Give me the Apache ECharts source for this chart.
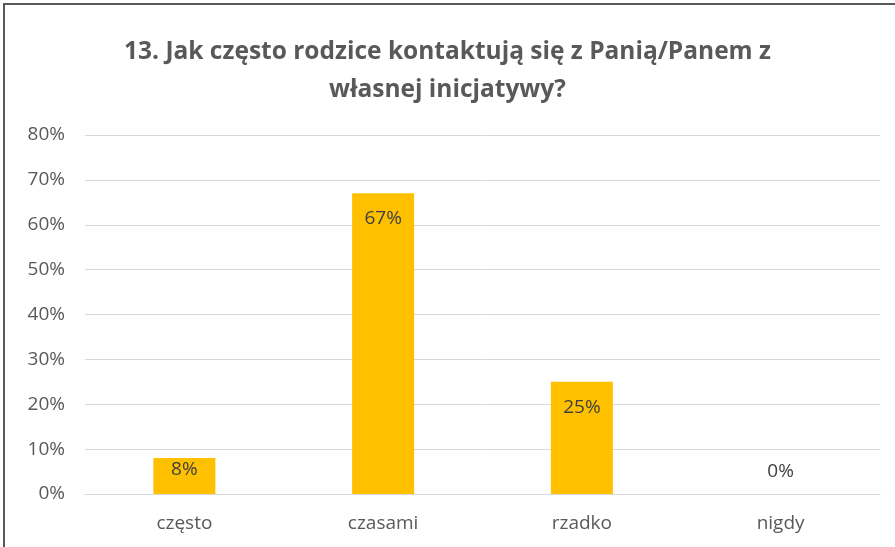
<!DOCTYPE html>
<html>
<head>
<meta charset="utf-8">
<script src="https://cdn.jsdelivr.net/npm/echarts@6/dist/echarts.min.js"></script>
<style>
  html, body { margin: 0; padding: 0; background: #fff; }
  #chart { width: 895px; height: 547px; }
</style>
</head>
<body>
<div id="chart"></div>
<script>
// Survey question 13 - share of answers
const categories = ['często', 'czasami', 'rzadko', 'nigdy'];
const shares = [8, 67, 25, 0];
const yTicks = [0, 10, 20, 30, 40, 50, 60, 70, 80];

const BAR_COLOR = '#FFC000';
const TEXT_COLOR = '#595959';
const GRID_COLOR = '#D9D9D9';
const FONT = 'Open Sans';

const chart = echarts.init(document.getElementById('chart'));

// Excel-like label placement: zero bars get the label above the axis,
// short bars keep it close to the top edge
const barData = shares.map(v => {
    if (v === 0) return { value: v, label: { position: 'top', distance: 13 } };
    if (v < 10) return { value: v, label: { distance: 2 } };
    return v;
});

const option = {
    animation: false,
    title: {
        text: '13. Jak często rodzice kontaktują się z Panią/Panem z\nwłasnej inicjatywy?',
        left: 'center',
        top: 28,
        textStyle: {
            fontFamily: FONT,
            fontSize: 24.5,
            fontWeight: 'bold',
            color: TEXT_COLOR,
            lineHeight: 38
        }
    },
    graphic: [{
        type: 'polyline',
        shape: { points: [[4, 547], [4, 4], [895, 4]] },
        style: { stroke: '#595959', lineWidth: 2, fill: null },
        silent: true
    }],
    grid: {
        left: 85,
        right: 15,
        top: 135,
        bottom: 53,
        containLabel: false
    },
    xAxis: {
        type: 'category',
        data: categories,
        axisLine: { lineStyle: { color: GRID_COLOR } },
        axisTick: { show: false },
        axisLabel: {
            color: TEXT_COLOR,
            fontFamily: FONT,
            fontSize: 19,
            margin: 20
        }
    },
    yAxis: {
        type: 'value',
        min: yTicks[0],
        max: yTicks[yTicks.length - 1],
        interval: 10,
        axisLine: { show: false },
        axisTick: { show: false },
        splitLine: { lineStyle: { color: GRID_COLOR } },
        axisLabel: {
            color: TEXT_COLOR,
            fontFamily: FONT,
            fontSize: 19,
            margin: 20,
            formatter: '{value}%'
        }
    },
    series: [{
        type: 'bar',
        data: barData,
        barWidth: 62,
        itemStyle: { color: BAR_COLOR },
        label: {
            show: true,
            position: 'insideTop',
            distance: 16,
            formatter: '{c}%',
            color: '#404040',
            fontFamily: FONT,
            fontSize: 19
        }
    }]
};

chart.setOption(option);
</script>
</body>
</html>
